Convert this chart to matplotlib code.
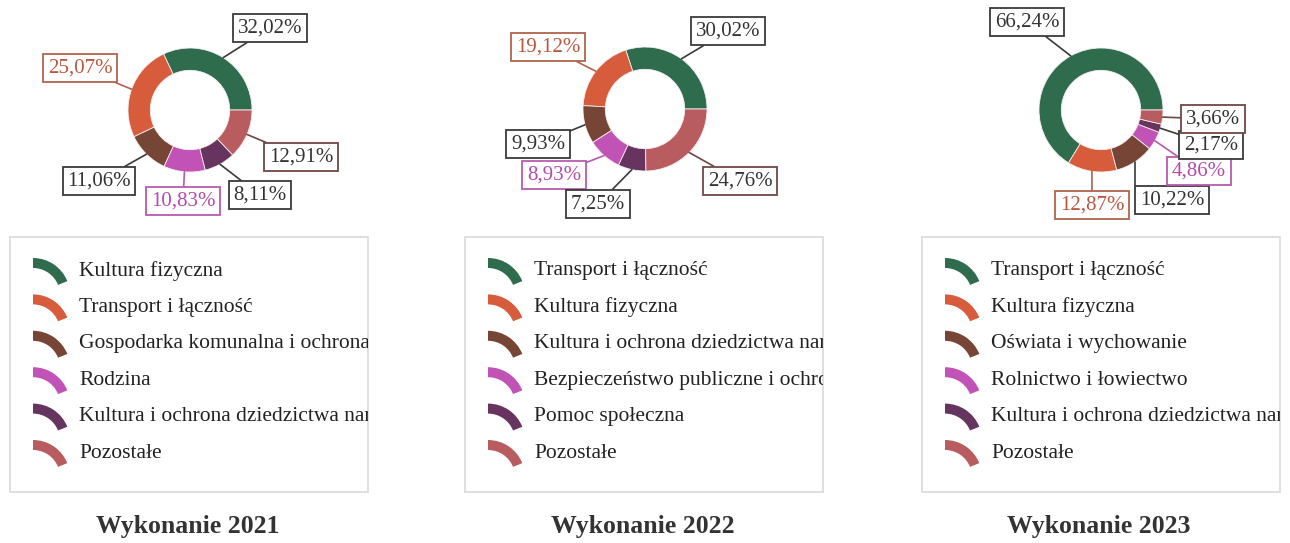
import numpy as np
import matplotlib
matplotlib.use('Agg')
import matplotlib.pyplot as plt
from matplotlib.patches import Wedge, Rectangle

plt.rcParams['font.family'] = ['Liberation Serif', 'DejaVu Serif']

# Struktura wydatków majątkowych wg działów
lata = ['2021', '2022', '2023']

kategorie_2021 = ['Kultura fizyczna', 'Transport i łączność',
                  'Gospodarka komunalna i ochrona środowiska', 'Rodzina',
                  'Kultura i ochrona dziedzictwa narodowego', 'Pozostałe']
wartosci_2021 = [32.02, 25.07, 11.06, 10.83, 8.11, 12.91]

kategorie_2022 = ['Transport i łączność', 'Kultura fizyczna',
                  'Kultura i ochrona dziedzictwa narodowego',
                  'Bezpieczeństwo publiczne i ochrona przeciwpożarowa',
                  'Pomoc społeczna', 'Pozostałe']
wartosci_2022 = [30.02, 19.12, 9.93, 8.93, 7.25, 24.76]

kategorie_2023 = ['Transport i łączność', 'Kultura fizyczna',
                  'Oświata i wychowanie', 'Rolnictwo i łowiectwo',
                  'Kultura i ochrona dziedzictwa narodowego', 'Pozostałe']
wartosci_2023 = [66.24, 12.87, 10.22, 4.86, 2.17, 3.66]

kategorie = [kategorie_2021, kategorie_2022, kategorie_2023]
wartosci = [wartosci_2021, wartosci_2022, wartosci_2023]

# kolory wycinków (kolejność jak w legendzie)
kolory = ['#2e6c4d', '#d65c3c', '#764536', '#c253b6', '#673460', '#b85c5f']
kolor_tekstu = ['#333333', '#b8573f', '#333333', '#b64aa8', '#333333', '#333333']
kolor_ramki = ['#3a3a3a', '#b0634c', '#3a3a3a', '#b85aad', '#3a3a3a', '#6e4646']

W, H = 1290, 543
fig = plt.figure(figsize=(W / 100, H / 100), dpi=100)

# środki pierścieni (px) i promień
srodki = [(190, 110), (645, 109), (1101, 110)]
R = 62

# położenie etykiet procentowych (px, od góry)
etykiety_xy = [
    [(270, 28), (80, 68), (99, 181), (183, 201), (260, 195), (301, 157)],
    [(728, 31), (548, 47), (538, 144), (554, 175), (598, 204), (740, 181)],
    [(1027, 22), (1092, 205), (1172, 200), (1199, 171), (1211, 145), (1213, 119)],
]

for i in range(3):
    cx, cy = srodki[i]
    ax = fig.add_axes([(cx - R) / W, (H - cy - R) / H, 2 * R / W, 2 * R / H])
    wedges, _ = ax.pie(wartosci[i], colors=kolory, startangle=0, counterclock=True,
                       radius=1, wedgeprops=dict(width=0.36, edgecolor='#f4eeee', linewidth=0.6))
    ax.set_xlim(-1, 1)
    ax.set_ylim(-1, 1)
    ax.axis('off')

    for j, w in enumerate(wedges):
        kat = np.deg2rad((w.theta1 + w.theta2) / 2)
        tekst = f'{wartosci[i][j]:.2f}'.replace('.', ',') + '%'
        tx, ty = etykiety_xy[i][j]
        styl = 'arc3'
        if i == 2 and j == 2:
            styl = 'angle,angleA=0,angleB=90,rad=0'
        ax.annotate(tekst, xy=(np.cos(kat), np.sin(kat)), xycoords='data',
                    xytext=(tx, H - ty), textcoords='figure pixels',
                    ha='center', va='center', fontsize=15, color=kolor_tekstu[j],
                    bbox=dict(boxstyle='square,pad=0.22', fc='white',
                              ec=kolor_ramki[j], lw=1.3),
                    arrowprops=dict(arrowstyle='-', color=kolor_ramki[j], lw=1.2,
                                    shrinkA=0, shrinkB=0, connectionstyle=styl))

# legendy i podpisy rysowane w pikselach
ov = fig.add_axes([0, 0, 1, 1])
ov.set_xlim(0, W)
ov.set_ylim(H, 0)
ov.axis('off')

legendy_x = [10, 465, 922]
szer_legendy = 358
for i in range(3):
    x0 = legendy_x[i]
    ramka = Rectangle((x0, 237), szer_legendy, 255, fill=False,
                      ec='#dcdcdc', lw=1.3)
    ov.add_patch(ramka)
    for j, nazwa in enumerate(kategorie[i]):
        yr = 271 + j * 36.4
        ov.add_patch(Wedge((x0 + 23, yr + 24), 37, -90, -22, width=10,
                           fc=kolory[j], ec='none'))
        t = ov.text(x0 + 69, yr, nazwa, fontsize=15.5, color='#222222',
                    ha='left', va='center', clip_on=True)
        t.set_clip_path(ramka)

    cx = srodki[i][0]
    ov.text(cx - 2, 526, 'Wykonanie ' + lata[i], fontsize=18.5, fontweight='bold',
            color='#333333', ha='center', va='center')

fig.savefig('out.png', dpi=100, facecolor='white')
